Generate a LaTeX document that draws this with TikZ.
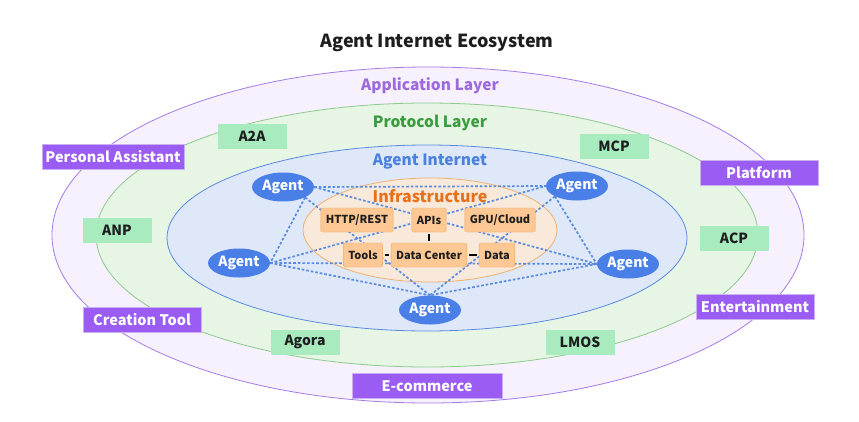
\documentclass[tikz,border=0pt]{standalone}
\usepackage{fontspec}
\setmainfont{Noto Sans CJK SC}
\usetikzlibrary{shapes.geometric}

\definecolor{appline}{HTML}{A57BE6}
\definecolor{appfill}{HTML}{F6F1FD}
\definecolor{apptext}{HTML}{9C6ADE}
\definecolor{appbox}{HTML}{9A5CF2}
\definecolor{protline}{HTML}{8CCB8C}
\definecolor{protfill}{HTML}{E7F5E5}
\definecolor{prottext}{HTML}{3A9B3F}
\definecolor{protbox}{HTML}{A8EBBE}
\definecolor{netline}{HTML}{5B8BE0}
\definecolor{netfill}{HTML}{DEE8F8}
\definecolor{nettext}{HTML}{4A80E0}
\definecolor{agentfill}{HTML}{4A7FE8}
\definecolor{infline}{HTML}{F0B070}
\definecolor{inffill}{HTML}{F8E9DA}
\definecolor{inftext}{HTML}{E8701A}
\definecolor{infbox}{HTML}{FDC894}
\definecolor{infboxline}{HTML}{F2A860}
\definecolor{titletext}{HTML}{1E1E1E}

\pgfdeclarelayer{bg}
\pgfdeclarelayer{mid}
\pgfsetlayers{bg,mid,main}

\newcommand{\fs}[1]{\bfseries\fontsize{#1}{#1}\selectfont}

\begin{document}
\begin{tikzpicture}[x=1pt,y=-1pt,
    agent/.style={ellipse,fill=agentfill,text=white,font=\fs{14},
      minimum width=62pt,minimum height=29pt,inner sep=0pt},
    infra/.style={rectangle,fill=infbox,draw=infboxline,rounded corners=1.5pt,
      font=\fs{11},text=titletext,minimum height=24pt,inner xsep=5pt},
    proto/.style={rectangle,fill=protbox,font=\fs{14},text=titletext,
      minimum width=69pt,minimum height=25pt},
    appbox/.style={rectangle,fill=appbox,draw=appline!60,font=\fs{14.5},text=white,
      minimum width=118pt,minimum height=25pt},
    link/.style={draw=netline,line width=1.7pt,dash pattern=on 2.6pt off 2pt},
    hard/.style={draw=black,line width=1.3pt,shorten >=2pt,shorten <=2pt}]
  \useasboundingbox (0,0) rectangle (859,421);

  % layers
  \begin{pgfonlayer}{bg}
    \draw[appline,fill=appfill,line width=.8pt] (428,235) ellipse [x radius=376pt,y radius=168pt];
    \draw[protline,fill=protfill,line width=.8pt] (427,235) ellipse [x radius=331pt,y radius=132pt];
    \draw[netline,fill=netfill,line width=.8pt] (427,238) ellipse [x radius=260pt,y radius=93pt];
    \draw[infline,fill=inffill,line width=.8pt] (430,230) ellipse [x radius=127pt,y radius=52pt];
  \end{pgfonlayer}

  \node[font=\fs{18},text=titletext] (title) at (437,43) {Agent Internet Ecosystem};
  \node[font=\fs{15.5},text=apptext] (applbl) at (430,86) {Application Layer};
  \node[font=\fs{15.5},text=prottext] (protlbl) at (430,123) {Protocol Layer};
  \node[font=\fs{15.5},text=nettext] (netlbl) at (430,162) {Agent Internet};
  \node[font=\fs{16},text=inftext] (inflbl) at (430,196) {Infrastructure};

  % infrastructure
  \node[infra] (http) at (357,220) {HTTP/REST};
  \node[infra] (apis) at (429,220) {APIs};
  \node[infra] (gpu) at (500,220) {GPU/Cloud};
  \node[infra] (tools) at (363,255) {Tools};
  \node[infra] (dc) at (429,255) {Data Center};
  \node[infra] (data) at (497,255) {Data};
  \draw[hard] (apis) -- (dc);
  \draw[hard] (tools) -- (dc);
  \draw[hard] (dc) -- (data);

  % agents
  \node[agent] (agtl) at (283,187) {Agent};
  \node[agent] (agtr) at (577,186) {Agent};
  \node[agent] (agl) at (239,263) {Agent};
  \node[agent] (agr) at (628,264) {Agent};
  \node[agent] (agb) at (430,310) {Agent};
  \begin{pgfonlayer}{mid}
    \draw[link] (agtl.east) -- (agtr.west);
    \draw[link] (agtl.east) -- (agr.west);
    \draw[link] (agtl.south east) -- (agl.east);
    \draw[link] (agtl.south east) -- (agb.north);
    \draw[link] (agl.east) -- (agtr.west);
    \draw[link] (agl.east) -- (agr.west);
    \draw[link] (agl.east) -- (agb.north);
    \draw[link] (agtr.south west) -- (agr.west);
    \draw[link] (agtr.south west) -- (agb.north);
    \draw[link] (agr.west) -- (agb.north);
  \end{pgfonlayer}

  % protocols
  \node[proto] (a2a) at (252,136) {A2A};
  \node[proto] (mcp) at (614,146) {MCP};
  \node[proto] (anp) at (117,230) {ANP};
  \node[proto] (acp) at (734,238) {ACP};
  \node[proto] (agora) at (305,342) {Agora};
  \node[proto] (lmos) at (580,342) {LMOS};

  % applications
  \node[appbox,minimum width=142pt] (pa) at (113,157) {Personal Assistant};
  \node[appbox] (ct) at (142,320) {Creation Tool};
  \node[appbox] (plat) at (759,173) {Platform};
  \node[appbox] (ent) at (755,307) {Entertainment};
  \node[appbox,minimum width=150pt] (ecom) at (427,386) {E-commerce};
\end{tikzpicture}
\end{document}
